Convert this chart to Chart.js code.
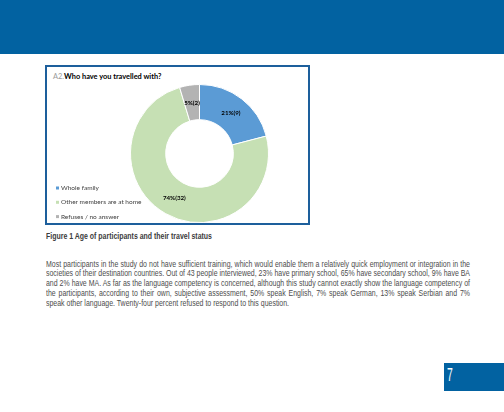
<!DOCTYPE html>
<html>
<head>
<meta charset="utf-8">
<script src="https://cdn.jsdelivr.net/npm/chart.js@4.4.1/dist/chart.umd.min.js"></script>
<style>
  html, body { margin:0; padding:0; background:#fff; }
  body { width:504px; height:412px; position:relative; overflow:hidden; }
  #header { position:absolute; left:0; top:0; width:504px; height:54px; background:#0262a1; }
  #frame { position:absolute; left:45px; top:65px; width:261px; height:156px; border:2px solid #1d5f9c; }
  #title { position:absolute; left:53px; top:72px; font-family:Lato, "Open Sans", sans-serif; font-size:7.4px; color:#000; white-space:nowrap; }
  #title .pre { color:#9a9a9a; font-weight:normal; }
  #title .q { font-weight:bold; }
  #chartWrap { position:absolute; left:47px; top:67px; width:261px; height:157px; }
  #caption { position:absolute; left:46px; top:231px; font-family:"Liberation Sans", Arial, sans-serif; font-weight:bold; font-size:8.6px; color:#3c3c3c; white-space:nowrap; transform-origin:0 0; }
  #para { position:absolute; left:46px; top:259.5px; transform-origin:0 0; font-family:"Liberation Sans", Arial, sans-serif; font-size:8.2px; line-height:9.9px; color:#4d4d4d; }
  #para div { text-align:justify; text-align-last:justify; white-space:nowrap; }
  #para div.last { text-align-last:left; }
  #pagebox { position:absolute; left:444px; top:363px; width:60px; height:28px; background:#0262a1; }
  #pagenum { position:absolute; left:447px; top:364px; font-family:"Liberation Sans", Arial, sans-serif; font-size:19px; color:#fff; transform:scaleX(0.55); transform-origin:0 0; font-weight:normal; }
</style>
</head>
<body>
<div id="header"></div>
<div id="frame"></div>
<div id="title"><span class="pre">A2.</span><span class="q">Who have you travelled with?</span></div>
<div id="chartWrap"><canvas id="c" width="261" height="157"></canvas></div>
<div id="caption">Figure 1 Age of participants and their travel status</div>
<div id="para"></div>
<div id="pagebox"></div>
<div id="pagenum">7</div>
<script>
const categories = ["Whole family", "Other members are at home", "Refuses / no answer"];
const counts = [9, 32, 2];
const sliceColors = ["#5b9bd5", "#c6e0b4", "#b3b3b3"];
const paragraphLines = [
  "Most participants in the study do not have sufficient training, which would enable them a relatively quick employment or integration in the",
  "societies of their destination countries. Out of 43 people interviewed, 23% have primary school, 65% have secondary school, 9% have BA",
  "and 2% have MA. As far as the language competency is concerned, although this study cannot exactly show the language competency of",
  "the participants, according to their own, subjective assessment, 50% speak English, 7% speak German, 13% speak Serbian and 7%",
  "speak other language. Twenty-four percent refused to respond to this question."
];

// paragraph: measure natural widths, condense so the widest line fits 424px
const para = document.getElementById('para');
const lineEls = paragraphLines.map((t, i) => {
  const d = document.createElement('div');
  d.textContent = t;
  d.style.display = 'inline-block';
  if (i === paragraphLines.length - 1) d.className = 'last';
  para.appendChild(d);
  return d;
});
let maxW = 0;
lineEls.forEach(d => { maxW = Math.max(maxW, d.getBoundingClientRect().width); });
lineEls.forEach(d => { d.style.display = 'block'; });
para.style.width = maxW + 'px';
para.style.transform = 'scaleX(' + (424 / maxW) + ')';

// condense caption to target width
const cap = document.getElementById('caption');
const capW = cap.getBoundingClientRect().width;
cap.style.transform = 'scaleX(' + (166 / capW) + ')';

const total = counts.reduce((a, b) => a + b, 0);

const labelPlugin = {
  id: 'sliceLabels',
  afterDatasetsDraw(chart) {
    const ctx = chart.ctx;
    const meta = chart.getDatasetMeta(0);
    ctx.save();
    ctx.font = 'bold 6.2px Lato, "Open Sans", sans-serif';
    ctx.fillStyle = '#000';
    ctx.textAlign = 'center';
    ctx.textBaseline = 'middle';
    meta.data.forEach((arc, i) => {
      const p = arc.tooltipPosition();
      const v = chart.data.datasets[0].data[i];
      const pct = Math.round(v / total * 100);
      ctx.fillText(pct + '%(' + v + ')', p.x, p.y);
    });
    ctx.restore();
  }
};

const legendPlugin = {
  id: 'leftLegend',
  afterDraw(chart) {
    const ctx = chart.ctx;
    const ds = chart.data.datasets[0];
    const yStart = 121, step = 14.3, x = 9;
    ctx.save();
    ctx.font = '6.5px Lato, "Open Sans", sans-serif';
    ctx.textBaseline = 'middle';
    chart.data.labels.forEach((lab, i) => {
      const y = yStart + i * step;
      ctx.fillStyle = ds.backgroundColor[i];
      ctx.fillRect(x, y - 1.5, 3, 3);
      ctx.fillStyle = '#404040';
      ctx.fillText(lab, x + 5, y);
    });
    ctx.restore();
  }
};

new Chart(document.getElementById('c'), {
  type: 'doughnut',
  data: {
    labels: categories,
    datasets: [{
      data: counts,
      backgroundColor: sliceColors,
      borderColor: '#ffffff',
      borderWidth: 1,
      hoverOffset: 0,
      offset: 0
    }]
  },
  options: {
    responsive: false,
    animation: false,
    cutout: '49%',
    layout: { padding: { left: 83, right: 39, top: 17, bottom: 1 } },
    plugins: {
      legend: { display: false },
      tooltip: { enabled: false },
      title: { display: false }
    }
  },
  plugins: [labelPlugin, legendPlugin]
});
</script>
</body>
</html>
